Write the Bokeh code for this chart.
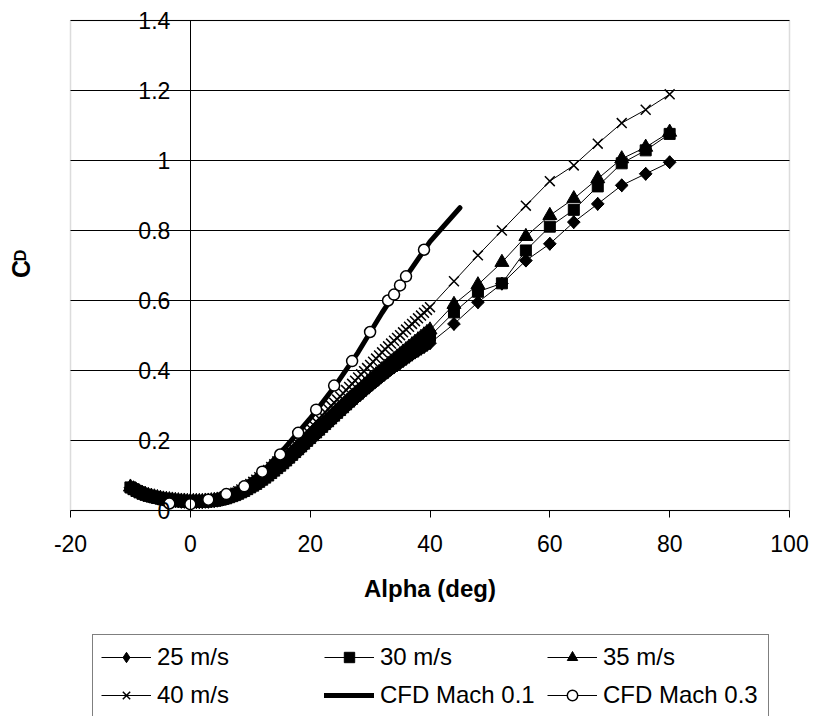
import math
from bokeh.plotting import figure
from bokeh.models import FixedTicker, Legend, LegendItem, Label, Range1d, BoxAnnotation
from bokeh.embed import file_html
from bokeh.resources import INLINE

# ---------------- data ----------------
ALPHA_DENSE = [-10.0, -9.5, -9.0, -8.5, -8.0, -7.5, -7.0, -6.5, -6.0, -5.5,
               -5.0, -4.5, -4.0, -3.5, -3.0, -2.5, -2.0, -1.5, -1.0, -0.5,
               0.0, 0.5, 1.0, 1.5, 2.0, 2.5, 3.0, 3.5, 4.0, 4.5,
               5.0, 5.5, 6.0, 6.5, 7.0, 7.5, 8.0, 8.5, 9.0, 9.5,
               10.0, 10.5, 11.0, 11.5, 12.0, 12.5, 13.0, 13.5, 14.0, 14.5,
               15.0, 15.5, 16.0, 16.5, 17.0, 17.5, 18.0, 18.5, 19.0, 19.5,
               20.0, 20.5, 21.0, 21.5, 22.0, 22.5, 23.0, 23.5, 24.0, 24.5,
               25.0, 25.5, 26.0, 26.5, 27.0, 27.5, 28.0, 28.5, 29.0, 29.5,
               30.0, 30.5, 31.0, 31.5, 32.0, 32.5, 33.0, 33.5, 34.0, 34.5,
               35.0, 35.5, 36.0, 36.5, 37.0, 37.5, 38.0, 38.5, 39.0, 39.5,
               40.0]
ALPHA_SPARSE = [44, 48, 52, 56, 60, 64, 68, 72, 76, 80]

CD_25_DENSE = [0.065, 0.060, 0.055, 0.051, 0.048, 0.045, 0.042, 0.039, 0.037, 0.035,
               0.033, 0.031, 0.030, 0.029, 0.028, 0.027, 0.026, 0.025, 0.025, 0.024,
               0.024, 0.024, 0.024, 0.024, 0.024, 0.025, 0.025, 0.026, 0.027, 0.028,
               0.030, 0.032, 0.034, 0.037, 0.040, 0.043, 0.047, 0.051, 0.055, 0.059,
               0.064, 0.069, 0.074, 0.079, 0.085, 0.091, 0.097, 0.103, 0.110, 0.117,
               0.124, 0.131, 0.138, 0.145, 0.153, 0.160, 0.168, 0.176, 0.184, 0.192,
               0.200, 0.208, 0.216, 0.224, 0.232, 0.240, 0.248, 0.256, 0.264, 0.272,
               0.280, 0.288, 0.296, 0.303, 0.311, 0.318, 0.326, 0.333, 0.341, 0.348,
               0.355, 0.362, 0.369, 0.376, 0.383, 0.390, 0.396, 0.403, 0.409, 0.415,
               0.421, 0.427, 0.433, 0.439, 0.445, 0.451, 0.456, 0.462, 0.467, 0.473,
               0.478]
CD_25_SPARSE = [0.533, 0.595, 0.648, 0.714, 0.762, 0.824, 0.876, 0.929, 0.962, 0.995]

CD_30_DENSE = [0.066, 0.061, 0.056, 0.052, 0.048, 0.045, 0.042, 0.040, 0.038, 0.036,
               0.034, 0.032, 0.031, 0.030, 0.029, 0.028, 0.027, 0.026, 0.026, 0.025,
               0.025, 0.025, 0.025, 0.025, 0.025, 0.026, 0.026, 0.027, 0.028, 0.029,
               0.031, 0.033, 0.035, 0.038, 0.041, 0.044, 0.048, 0.052, 0.056, 0.061,
               0.066, 0.071, 0.076, 0.082, 0.088, 0.094, 0.100, 0.107, 0.114, 0.121,
               0.128, 0.135, 0.143, 0.151, 0.159, 0.167, 0.175, 0.183, 0.191, 0.199,
               0.207, 0.215, 0.223, 0.231, 0.239, 0.247, 0.255, 0.263, 0.271, 0.279,
               0.287, 0.295, 0.303, 0.311, 0.319, 0.327, 0.334, 0.342, 0.349, 0.357,
               0.364, 0.371, 0.378, 0.385, 0.392, 0.399, 0.406, 0.413, 0.420, 0.427,
               0.434, 0.441, 0.448, 0.455, 0.461, 0.467, 0.474, 0.480, 0.486, 0.492,
               0.498]
CD_30_SPARSE = [0.566, 0.625, 0.649, 0.743, 0.811, 0.859, 0.926, 0.992, 1.029, 1.076]

CD_35_DENSE = [0.067, 0.062, 0.057, 0.053, 0.049, 0.046, 0.043, 0.041, 0.039, 0.037,
               0.035, 0.033, 0.032, 0.031, 0.030, 0.029, 0.028, 0.027, 0.027, 0.026,
               0.026, 0.026, 0.026, 0.026, 0.026, 0.027, 0.027, 0.028, 0.029, 0.030,
               0.032, 0.034, 0.036, 0.039, 0.042, 0.045, 0.049, 0.053, 0.058, 0.063,
               0.068, 0.073, 0.079, 0.085, 0.091, 0.097, 0.104, 0.111, 0.118, 0.125,
               0.133, 0.141, 0.149, 0.157, 0.165, 0.173, 0.181, 0.189, 0.197, 0.205,
               0.213, 0.221, 0.229, 0.237, 0.245, 0.253, 0.261, 0.269, 0.277, 0.285,
               0.293, 0.301, 0.309, 0.317, 0.325, 0.333, 0.341, 0.349, 0.357, 0.365,
               0.373, 0.380, 0.388, 0.395, 0.403, 0.410, 0.418, 0.425, 0.432, 0.439,
               0.446, 0.453, 0.460, 0.467, 0.474, 0.481, 0.488, 0.495, 0.502, 0.509,
               0.516]
CD_35_SPARSE = [0.589, 0.645, 0.709, 0.783, 0.843, 0.891, 0.948, 1.005, 1.038, 1.081]

CD_40_DENSE = [0.064, 0.059, 0.054, 0.050, 0.046, 0.043, 0.040, 0.038, 0.036, 0.034,
               0.032, 0.031, 0.030, 0.029, 0.028, 0.027, 0.026, 0.026, 0.025, 0.025,
               0.025, 0.025, 0.025, 0.025, 0.026, 0.027, 0.028, 0.029, 0.030, 0.032,
               0.034, 0.037, 0.040, 0.043, 0.047, 0.051, 0.055, 0.060, 0.065, 0.070,
               0.076, 0.082, 0.088, 0.095, 0.102, 0.109, 0.116, 0.124, 0.132, 0.140,
               0.148, 0.156, 0.164, 0.173, 0.182, 0.191, 0.200, 0.209, 0.218, 0.227,
               0.236, 0.245, 0.254, 0.263, 0.272, 0.281, 0.290, 0.299, 0.308, 0.317,
               0.326, 0.335, 0.344, 0.353, 0.362, 0.371, 0.380, 0.389, 0.398, 0.407,
               0.416, 0.425, 0.434, 0.443, 0.452, 0.461, 0.469, 0.477, 0.485, 0.493,
               0.501, 0.509, 0.517, 0.525, 0.533, 0.541, 0.549, 0.557, 0.565, 0.573,
               0.581]
CD_40_SPARSE = [0.655, 0.729, 0.800, 0.871, 0.941, 0.986, 1.048, 1.107, 1.145, 1.189]

CFD_M01_ALPHA = [-4, 0, 4, 8, 12, 16, 20, 24, 28, 32, 36, 40, 45]
CFD_M01_CD = [0.022, 0.020, 0.034, 0.062, 0.110, 0.183, 0.263, 0.352, 0.452, 0.565, 0.668, 0.768, 0.865]

CFD_M03_ALPHA = [-3.5, 0, 3, 6, 9, 12, 15, 18, 21, 24, 27, 30, 33, 34, 35, 36, 39]
CFD_M03_CD = [0.020, 0.018, 0.031, 0.047, 0.069, 0.111, 0.160, 0.222, 0.288, 0.357,
              0.427, 0.510, 0.600, 0.617, 0.643, 0.669, 0.745]

X_TICKS = [-20, 0, 20, 40, 60, 80, 100]
X_LABELS = ["-20", "0", "20", "40", "60", "80", "100"]
Y_TICKS = [0, 0.2, 0.4, 0.6, 0.8, 1, 1.2, 1.4]
Y_LABELS = ["0", "0.2", "0.4", "0.6", "0.8", "1", "1.2", "1.4"]

SERIES_NAMES = ["25 m/s", "30 m/s", "35 m/s", "40 m/s", "CFD Mach 0.1", "CFD Mach 0.3"]

FONT = "Liberation Sans"

# ---------------- layout (pixels inside the canvas) ----------------
W, H = 814, 716
AREA_L, AREA_R, AREA_T, AREA_B = 70, 789, 20, 510   # visible plot area
X_MIN, X_MAX = X_TICKS[0], X_TICKS[-1]
Y_MIN, Y_MAX = Y_TICKS[0], Y_TICKS[-1]
SX = (AREA_R - AREA_L) / (X_MAX - X_MIN)
SY = (AREA_B - AREA_T) / (Y_MAX - Y_MIN)
x_range = Range1d(X_MIN - AREA_L / SX, X_MAX + (W - AREA_R) / SX)
y_range = Range1d(Y_MIN - (H - AREA_B) / SY, Y_MAX + AREA_T / SY)

p = figure(frame_width=W, frame_height=H, x_range=x_range, y_range=y_range,
           output_backend="svg", toolbar_location=None, min_border=0,
           background_fill_color="white", border_fill_color="white")
p.outline_line_color = None
p.xgrid.visible = False
p.ygrid.visible = False

# horizontal gridlines across the plot area only
n_grid = len(Y_TICKS) - 1
p.segment(x0=[X_MIN] * n_grid, x1=[X_MAX] * n_grid, y0=Y_TICKS[1:], y1=Y_TICKS[1:],
          line_color="black", line_width=1)
# grey plot-area border
p.add_layout(BoxAnnotation(left=X_MIN, right=X_MAX, bottom=Y_MIN, top=Y_MAX,
                           fill_alpha=0, line_color="#8c8c8c", line_width=1.5,
                           level="underlay"))

xa = p.xaxis[0]
xa.fixed_location = 0
xa.bounds = (X_MIN, X_MAX)
xa.ticker = FixedTicker(ticks=X_TICKS)
xa.major_label_overrides = dict(zip(X_TICKS, X_LABELS))
xa.major_tick_out = 7
xa.major_tick_in = 0
xa.minor_tick_out = 0
xa.minor_tick_in = 0
xa.axis_line_color = "black"
xa.major_tick_line_color = "black"
xa.major_label_text_font = FONT
xa.major_label_text_font_size = "23px"
xa.major_label_text_color = "black"
xa.major_label_standoff = 17
xa.axis_label = "Alpha (deg)"
xa.axis_label_text_font = FONT
xa.axis_label_text_font_size = "24px"
xa.axis_label_text_font_style = "bold"
xa.axis_label_text_color = "black"
xa.axis_label_standoff = 20

ya = p.yaxis[0]
ya.fixed_location = 0
ya.bounds = (Y_MIN, Y_MAX)
ya.ticker = FixedTicker(ticks=Y_TICKS)
ya.major_label_overrides = dict(zip(Y_TICKS, Y_LABELS))
ya.major_tick_out = 7
ya.major_tick_in = 0
ya.minor_tick_out = 0
ya.minor_tick_in = 0
ya.axis_line_color = "black"
ya.major_tick_line_color = "black"
ya.major_label_text_font = FONT
ya.major_label_text_font_size = "23px"
ya.major_label_text_color = "black"
ya.major_label_standoff = 13

# ---------------- series ----------------
def measured(dense, sparse, marker, size, angle=0.0, lw=1.0):
    xs = ALPHA_DENSE + ALPHA_SPARSE
    ys = dense + sparse
    ln = p.line(xs, ys, line_color="black", line_width=1)
    sc = p.scatter(xs, ys, marker=marker, size=size, angle=angle,
                   fill_color="black", line_color="black", line_width=lw)
    return [ln, sc]

# 25 m/s: a plain diamond (used by the legend, which ignores marker rotation)
# underneath an Excel-like square diamond
d25 = p.scatter(ALPHA_DENSE + ALPHA_SPARSE, CD_25_DENSE + CD_25_SPARSE, marker="diamond",
                size=13, fill_color="black", line_color="black")
r25 = measured(CD_25_DENSE, CD_25_SPARSE, "square", 9, angle=math.pi / 4)
r30 = measured(CD_30_DENSE, CD_30_SPARSE, "square", 11)
r35 = measured(CD_35_DENSE, CD_35_SPARSE, "triangle", 14)
r40 = measured(CD_40_DENSE, CD_40_SPARSE, "x", 14, lw=1.5)

m1 = p.line(CFD_M01_ALPHA, CFD_M01_CD, line_color="black", line_width=5, line_cap="round")
m3l = p.line(CFD_M03_ALPHA, CFD_M03_CD, line_color="black", line_width=1)
m3s = p.scatter(CFD_M03_ALPHA, CFD_M03_CD, marker="circle", size=11,
                fill_color="white", line_color="black", line_width=1.5)

items = [
    LegendItem(label=SERIES_NAMES[0], renderers=[r25[0], d25]),
    LegendItem(label=SERIES_NAMES[1], renderers=r30),
    LegendItem(label=SERIES_NAMES[2], renderers=r35),
    LegendItem(label=SERIES_NAMES[3], renderers=r40),
    LegendItem(label=SERIES_NAMES[4], renderers=[m1]),
    LegendItem(label=SERIES_NAMES[5], renderers=[m3l, m3s]),
]
legend = Legend(items=items, location=(92, -2), orientation="horizontal",
                nrows=2, ncols=3, padding=8, spacing=10, margin=0,
                glyph_width=50, glyph_height=26, label_height=26, label_width=157,
                label_standoff=6, label_text_font=FONT, label_text_font_size="24px",
                label_text_color="black", label_text_baseline="middle",
                border_line_color="black", border_line_width=1,
                background_fill_color="white", background_fill_alpha=1.0)
p.add_layout(legend)

# y-axis title C with subscript D
p.add_layout(Label(x=X_MIN, y=0.69, x_offset=-50, text="C", angle=math.pi / 2,
                   text_align="center", text_baseline="alphabetic",
                   text_font=FONT, text_font_size="25px", text_font_style="bold",
                   text_color="black"))
p.add_layout(Label(x=X_MIN, y=0.729, x_offset=-50, text="D", angle=math.pi / 2,
                   text_align="center", text_baseline="alphabetic",
                   text_font=FONT, text_font_size="16px", text_font_style="bold",
                   text_color="black"))

open("out.html", "w").write(file_html(p, INLINE))
